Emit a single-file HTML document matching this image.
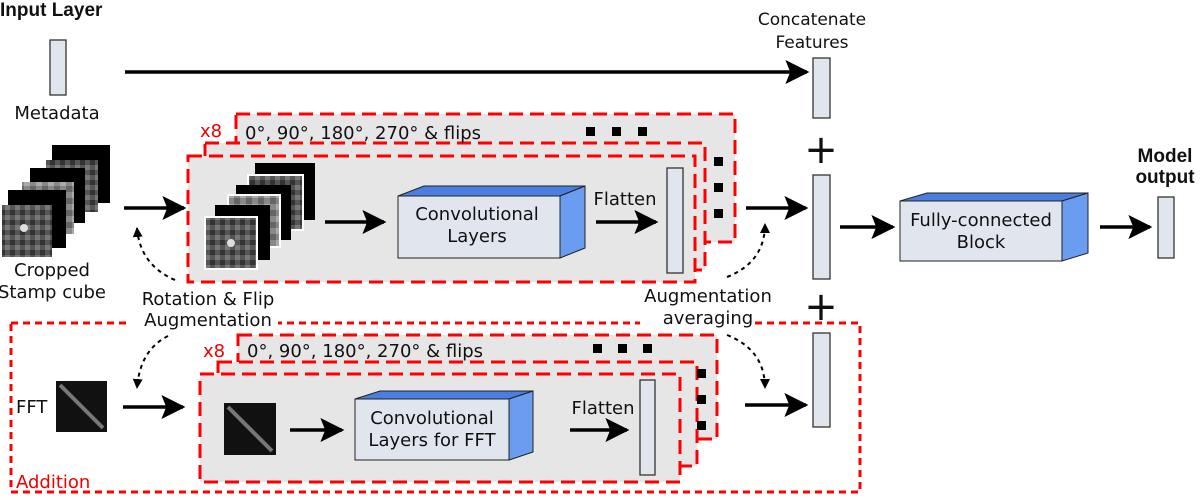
<!DOCTYPE html>
<html><head><style>body{margin:0;background:#fff}svg{display:block;font-family:"DejaVu Sans","Liberation Sans",sans-serif}</style></head><body>
<svg width="1200" height="498" viewBox="0 0 1200 498" xmlns="http://www.w3.org/2000/svg">
<defs>
<marker id="a2" viewBox="0 0 10 10" markerWidth="24" markerHeight="24" refX="9" refY="5" orient="auto" markerUnits="userSpaceOnUse"><path d="M0,0 L10,5 L0,10 L2,5 z" fill="#000"/></marker>
<marker id="a3" viewBox="0 0 10 10" markerWidth="10" markerHeight="10" refX="9" refY="5" orient="auto" markerUnits="userSpaceOnUse"><path d="M0,0 L10,5 L0,10 z" fill="#000"/></marker>
<pattern id="noise" width="10" height="10" patternUnits="userSpaceOnUse"><rect width="10" height="10" fill="#555"/><rect width="5" height="5" fill="#333"/><rect x="5" y="5" width="5" height="5" fill="#777"/></pattern>
<pattern id="noise2" width="12" height="12" patternUnits="userSpaceOnUse"><rect width="12" height="12" fill="#888"/><rect width="6" height="6" fill="#aaa"/><rect x="6" y="6" width="6" height="6" fill="#666"/></pattern>
</defs>
<style>text{font-size:18px;fill:#111}.bd{font-family:"Liberation Sans",sans-serif;font-weight:bold;font-size:19px}.lb{fill:#e6e6e6;stroke:#f00;stroke-width:3;stroke-dasharray:14 7}.bar{fill:#e1e5ee;stroke:#333;stroke-width:1.3}.ar{stroke:#000;stroke-width:3.5;fill:none;marker-end:url(#a2)}.dd{stroke:#000;stroke-width:2;fill:none;stroke-dasharray:4 4;marker-end:url(#a3)}</style>

<text x="0" y="16" class="bd">Input Layer</text>
<rect class="bar" x="50" y="40" width="16" height="55"/>
<text x="57" y="119" text-anchor="middle">Metadata</text>
<line class="ar" x1="125" y1="72" x2="807" y2="72"/>
<text x="812" y="25" text-anchor="middle" style="font-size:17px">Concatenate</text>
<text x="812" y="48" text-anchor="middle" style="font-size:17px">Features</text>
<rect class="bar" x="813" y="58" width="17" height="60"/>
<text x="821" y="163" text-anchor="middle" style="font-size:40px">+</text>
<rect class="bar" x="813" y="175" width="17" height="104"/>
<text x="821" y="320" text-anchor="middle" style="font-size:40px">+</text>
<rect class="bar" x="813" y="333" width="17" height="94"/>

<rect x="11" y="323" width="849" height="169" fill="none" stroke="#f00" stroke-width="3" stroke-dasharray="7 5"/>
<rect x="130" y="305" width="148" height="30" fill="#fff"/>
<rect x="640" y="305" width="115" height="30" fill="#fff"/>
<text x="16" y="488" style="fill:#e00;font-size:18px">Addition</text>

<rect class="lb" x="236" y="114" width="499" height="128"/>
<rect class="lb" x="205" y="143" width="500" height="127"/>
<rect class="lb" x="188" y="156" width="507" height="126"/>
<text x="200" y="137" style="fill:#e00;font-size:18px">x8</text>
<text x="245" y="139">0°, 90°, 180°, 270° &amp; flips</text>
<g fill="#000"><rect x="586" y="127" width="9" height="9"/><rect x="612" y="127" width="9" height="9"/><rect x="638" y="127" width="9" height="9"/>
<rect x="714" y="157" width="9" height="9"/><rect x="714" y="183" width="9" height="9"/><rect x="714" y="209" width="9" height="9"/></g>

<g>
<rect x="255" y="163" width="60" height="57" fill="#000"/><rect x="248" y="175" width="55" height="55" fill="url(#noise)" stroke="#fff" stroke-width="2"/>
<rect x="236" y="185" width="55" height="55" fill="#000"/><rect x="228" y="195" width="52" height="52" fill="url(#noise2)" stroke="#fff" stroke-width="2"/>
<rect x="215" y="205" width="55" height="55" fill="#000"/><rect x="205" y="217" width="52" height="52" fill="url(#noise)" stroke="#fff" stroke-width="2"/>
<circle cx="231" cy="243" r="4" fill="#ddd"/>
</g>
<line class="ar" x1="325" y1="222" x2="384" y2="222"/>
<polygon points="398,196 424,186 585,186 560,196" fill="#4a7ee0" stroke="#222"/>
<polygon points="560,196 585,186 585,248 560,258" fill="#6a9df0" stroke="#222"/>
<rect x="398" y="196" width="162" height="62" fill="#e1e5ee" stroke="#222"/>
<text x="477" y="220" text-anchor="middle">Convolutional</text>
<text x="477" y="242" text-anchor="middle">Layers</text>
<text x="625" y="205" text-anchor="middle">Flatten</text>
<line class="ar" x1="596" y1="222" x2="656" y2="222"/>
<rect class="bar" x="667" y="168" width="16" height="105"/>

<g>
<rect x="52" y="145" width="58" height="58" fill="#000"/><rect x="46" y="160" width="52" height="52" fill="url(#noise)"/>
<rect x="30" y="168" width="55" height="55" fill="#000"/><rect x="22" y="182" width="52" height="52" fill="url(#noise2)"/>
<rect x="8" y="190" width="58" height="58" fill="#000"/><rect x="2" y="205" width="50" height="52" fill="url(#noise)"/>
<circle cx="24" cy="228" r="4" fill="#ddd"/>
</g>
<text x="52" y="276" text-anchor="middle">Cropped</text>
<text x="52" y="298" text-anchor="middle">Stamp cube</text>
<line class="ar" x1="124" y1="208" x2="184" y2="208"/>
<line class="ar" x1="746" y1="208" x2="806" y2="208"/>
<line class="ar" x1="840" y1="227" x2="893" y2="227"/>

<text x="208" y="305" text-anchor="middle">Rotation &amp; Flip</text>
<text x="208" y="326" text-anchor="middle">Augmentation</text>
<text x="708" y="302" text-anchor="middle">Augmentation</text>
<text x="708" y="324" text-anchor="middle">averaging</text>
<path class="dd" d="M175,280 Q140,265 137,228"/>
<path class="dd" d="M168,336 Q140,350 137,388"/>
<path class="dd" d="M727,277 Q765,262 765,224"/>
<path class="dd" d="M727,335 Q765,350 765,388"/>

<polygon points="900,201 927,193 1088,193 1062,201" fill="#4a7ee0" stroke="#222"/>
<polygon points="1062,201 1088,193 1088,253 1062,261" fill="#6a9df0" stroke="#222"/>
<rect x="900" y="201" width="162" height="60" fill="#e1e5ee" stroke="#222"/>
<text x="981" y="226" text-anchor="middle">Fully-connected</text>
<text x="981" y="248" text-anchor="middle">Block</text>
<line class="ar" x1="1100" y1="227" x2="1150" y2="227"/>
<rect class="bar" x="1158" y="197" width="16" height="61"/>
<text x="1165" y="162" text-anchor="middle" class="bd">Model</text>
<text x="1165" y="183" text-anchor="middle" class="bd">output</text>

<rect class="lb" x="238" y="335" width="479" height="104"/>
<rect class="lb" x="218" y="362" width="479" height="104"/>
<rect class="lb" x="200" y="374" width="480" height="108"/>
<text x="203" y="357" style="fill:#e00;font-size:18px">x8</text>
<text x="247" y="357">0°, 90°, 180°, 270° &amp; flips</text>
<g fill="#000"><rect x="593" y="344" width="9" height="9"/><rect x="618" y="344" width="9" height="9"/><rect x="643" y="344" width="9" height="9"/>
<rect x="697" y="369" width="9" height="9"/><rect x="697" y="395" width="9" height="9"/><rect x="697" y="421" width="9" height="9"/></g>
<text x="16" y="413">FFT</text>
<rect x="56" y="381" width="51" height="51" fill="#111"/>
<line x1="60" y1="385" x2="103" y2="428" stroke="#777" stroke-width="4"/>
<rect x="224" y="403" width="52" height="52" fill="#111"/>
<line x1="228" y1="407" x2="272" y2="451" stroke="#777" stroke-width="4"/>
<line class="ar" x1="123" y1="407" x2="183" y2="407"/>
<line class="ar" x1="290" y1="430" x2="342" y2="430"/>
<polygon points="355,399 380,391 533,391 509,399" fill="#4a7ee0" stroke="#222"/>
<polygon points="509,399 533,391 533,452 509,460" fill="#6a9df0" stroke="#222"/>
<rect x="355" y="399" width="154" height="61" fill="#e1e5ee" stroke="#222"/>
<text x="432" y="424" text-anchor="middle">Convolutional</text>
<text x="432" y="446" text-anchor="middle">Layers for FFT</text>
<text x="603" y="414" text-anchor="middle">Flatten</text>
<line class="ar" x1="570" y1="430" x2="627" y2="430"/>
<rect class="bar" x="640" y="380" width="15" height="95"/>
<line class="ar" x1="745" y1="405" x2="806" y2="405"/>
</svg>
</body></html>
